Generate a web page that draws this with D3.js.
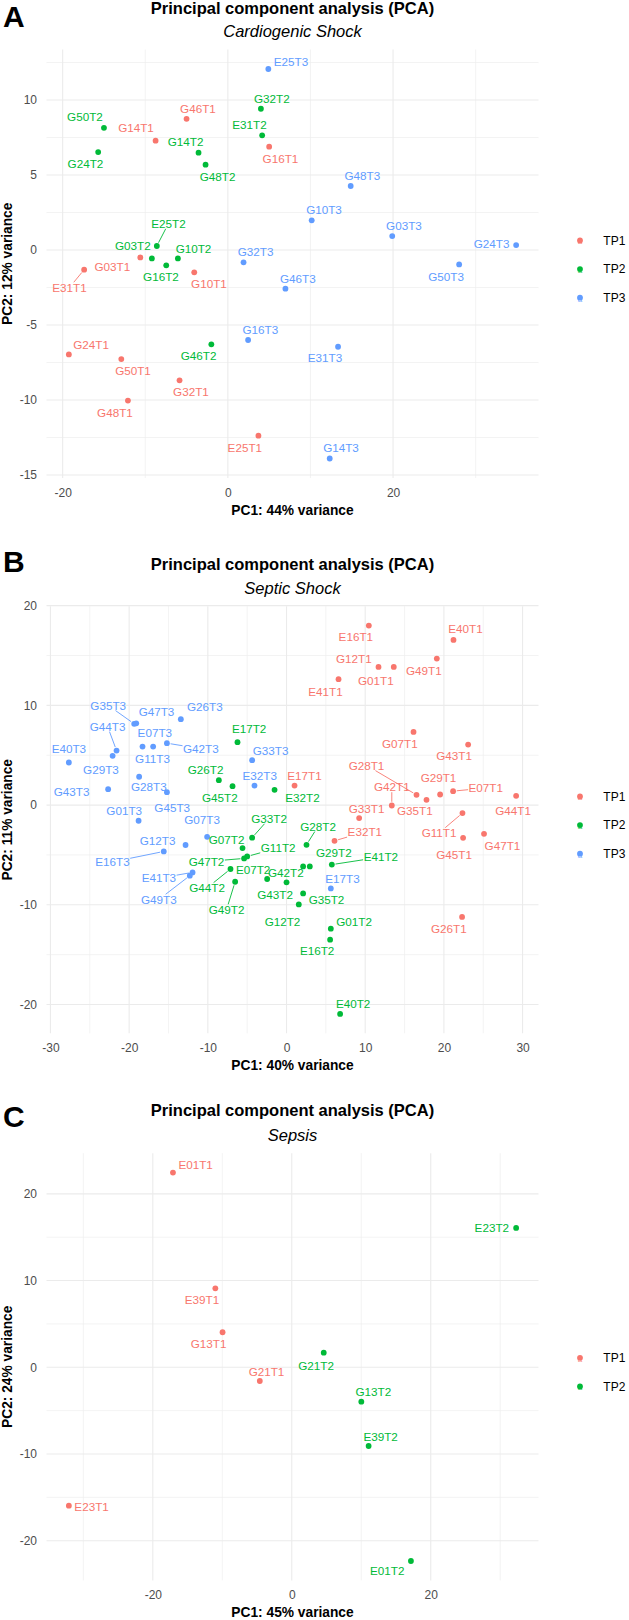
<!DOCTYPE html>
<html>
<head>
<meta charset="utf-8">
<script src="https://cdn.jsdelivr.net/npm/d3@7"></script>
<style>
  body { margin: 0; background: #fff; }
  svg text { font-family: "Liberation Sans", Arial, Helvetica, sans-serif; }
</style>
</head>
<body>
<svg id="fig" width="629" height="1620"></svg>
<script>
// ---- data: panel A, cardiogenic shock ----
const cardioSample = ['E25T3','G32T2','G46T1','G50T2','G14T1','E31T2','G16T1','G14T2','G24T2','G48T2',
  'G48T3','G10T3','G03T3','G24T3','E25T2','G03T2','G10T2','G03T1','G16T2','G32T3','G50T3',
  'E31T1','G10T1','G46T3','G16T3','G46T2','E31T3','G24T1','G50T1','G32T1','G48T1','E25T1','G14T3'];
const cardioTP = ['TP3','TP2','TP1','TP2','TP1','TP2','TP1','TP2','TP2','TP2',
  'TP3','TP3','TP3','TP3','TP2','TP2','TP2','TP1','TP2','TP3','TP3',
  'TP1','TP1','TP3','TP3','TP2','TP3','TP1','TP1','TP1','TP1','TP1','TP3'];
const cardioPC1 = [4.9, 4.0, -5.0, -15.0, -8.75, 4.15, 5.0, -3.55, -15.7, -2.7,
  14.87, 10.15, 19.9, 34.9, -8.6, -9.2, -6.05, -10.6, -7.46, 1.9, 28.0,
  -17.4, -4.07, 6.97, 2.45, -2.0, 13.34, -19.25, -12.9, -5.85, -12.1, 3.7, 12.33];
const cardioPC2 = [12.07, 9.42, 8.75, 8.15, 7.29, 7.65, 6.89, 6.49, 6.53, 5.69,
  4.27, 1.98, 0.93, 0.33, 0.27, -0.56, -0.56, -0.49, -1.02, -0.82, -0.96,
  -1.31, -1.49, -2.58, -6.0, -6.29, -6.45, -6.96, -7.27, -8.69, -10.04, -12.38, -13.9];
const cardioXTicks = [-20, 0, 20];
const cardioYTicks = [-15, -10, -5, 0, 5, 10];

// ---- data: panel B, septic shock ----
const septicSample = ['E40T3','G29T3','G44T3','G35T3','G47T3','G11T3','E07T3','G42T3','G26T3','G28T3',
  'G43T3','G45T3','G33T3','E32T3','G01T3','G07T3','G12T3','E16T3','E41T3','G49T3','E17T3',
  'E17T2','G26T2','G45T2','E32T2','G33T2','G07T2','G11T2','G47T2','G44T2','G49T2','E07T2',
  'G43T2','G12T2','G28T2','G42T2','G29T2','E41T2','G35T2','G01T2','E16T2','E40T2',
  'E16T1','E40T1','G49T1','G12T1','G01T1','E41T1','G07T1','G43T1','G28T1','G35T1','G29T1',
  'E07T1','G44T1','G42T1','G33T1','G11T1','G45T1','G47T1','E32T1','E17T1','G26T1'];
const septicTP = [
  'TP3','TP3','TP3','TP3','TP3','TP3','TP3','TP3','TP3','TP3','TP3','TP3','TP3','TP3','TP3','TP3','TP3','TP3','TP3','TP3','TP3',
  'TP2','TP2','TP2','TP2','TP2','TP2','TP2','TP2','TP2','TP2','TP2','TP2','TP2','TP2','TP2','TP2','TP2','TP2','TP2','TP2','TP2',
  'TP1','TP1','TP1','TP1','TP1','TP1','TP1','TP1','TP1','TP1','TP1','TP1','TP1','TP1','TP1','TP1','TP1','TP1','TP1','TP1','TP1'];
const septicPC1 = [-27.66, -22.1, -21.6, -19.36, -19.1, -18.3, -16.95, -15.2, -13.43, -18.73,
  -22.67, -15.2, -4.37, -4.07, -18.8, -10.09, -12.83, -15.6, -11.94, -12.29, 5.63,
  -6.23, -8.6, -6.86, -1.52, -4.37, -5.59, -5.0, -5.39, -7.12, -6.53, -2.46,
  0.0, 1.56, 2.54, 2.11, 2.96, 5.76, 2.11, 5.63, 5.54, 6.81,
  10.46, 21.22, 19.1, 11.69, 13.63, 6.61, 16.14, 23.08, 16.52, 17.79, 19.52,
  21.17, 29.18, 13.38, 9.23, 22.36, 22.44, 25.1, 6.1, 1.02, 22.31];
const septicPC2 = [4.27, 4.94, 5.47, 8.15, 8.2, 5.87, 5.87, 6.21, 8.62, 2.84,
  1.6, 1.3, 4.5, 1.96, -1.57, -3.18, -4.0, -4.65, -6.75, -7.08, -8.36,
  6.31, 2.5, 1.9, 1.53, -3.27, -4.31, -5.15, -5.35, -6.41, -7.69, -7.41,
  -7.75, -9.96, -3.98, -6.15, -6.15, -5.97, -8.86, -12.39, -13.5, -20.94,
  18.0, 16.56, 14.69, 13.86, 13.86, 12.63, 7.34, 6.07, 1.03, 0.53, 1.06,
  1.4, 0.93, -0.04, -1.3, -0.8, -3.28, -2.88, -3.58, 1.96, -11.22];
const septicXTicks = [-30, -20, -10, 0, 10, 20, 30];
const septicYTicks = [-20, -10, 0, 10, 20];

// ---- data: panel C, sepsis ----
const sepsisSample = ['E01T1','E39T1','G13T1','G21T1','E23T1','E23T2','G21T2','G13T2','E39T2','E01T2'];
const sepsisTP = ['TP1','TP1','TP1','TP1','TP1','TP2','TP2','TP2','TP2','TP2'];
const sepsisPC1 = [-17.1, -11.0, -9.96, -4.6, -32.08, 32.29, 4.6, 10.01, 11.06, 17.15];
const sepsisPC2 = [22.45, 9.11, 4.04, -1.58, -15.96, 16.07, 1.68, -3.97, -9.08, -22.34];
const sepsisXTicks = [-20, 0, 20];
const sepsisYTicks = [-20, -10, 0, 10, 20];

const tpLevels = ['TP1', 'TP2', 'TP3'];
const tpColors = ['#F8766D', '#00BA38', '#619CFF'];

// ---- label placement (layout, pixel nudges as ggrepel left them) ----
const cardioNudge = {
  E25T3:[22.7,-7.3], G32T2:[11,-10], G46T1:[11.4,-9.7], G50T2:[-19,-10.4], G14T1:[-19.6,-13],
  E31T2:[-12.7,-10], G16T1:[11.3,12.6], G14T2:[-13,-10.4], G24T2:[-12.7,11.7], G48T2:[12,12],
  G48T3:[11.6,-9.7], G10T3:[12.3,-10], G03T3:[11.7,-9.7], G24T3:[-24.6,-0.7], E25T2:[11.6,-22.3],
  G03T2:[-19,-12.6], G10T2:[15.6,-10], G03T1:[-28,9.4], G16T2:[-5.3,11.4], G32T3:[12,-10],
  G50T3:[-13,12], E31T1:[-14.7,18], G10T1:[14.7,12], G46T3:[12.4,-10], G16T3:[12.3,-10],
  G46T2:[-12.7,11.7], E31T3:[-13,11.6], G24T1:[22.3,-9.3], G50T1:[11.7,11.7], G32T1:[11.4,11.7],
  G48T1:[-13,12], E25T1:[-13.6,12.3], G14T3:[11.3,-10.3]
};
const cardioSegments = ['E25T2', 'E31T1'];

const septicNudge = {
  E40T3:[0,-13.4], G29T3:[-11.7,14], G44T3:[-9,-24], G35T3:[-26,-18.3], G47T3:[20.3,-11.2],
  G11T3:[10,12.6], E07T3:[1.7,-13.4], G42T3:[34,5.7], G26T3:[24,-12.6], G28T3:[9.7,10.3],
  G43T3:[-36.6,2.4], G45T3:[5.3,16], G33T3:[18.4,-9.6], E32T3:[5.3,-10], G01T3:[-14.4,-10],
  G07T3:[-5,-17.3], G12T3:[-28,-4], E16T3:[-51.3,10.6], E41T3:[-33.7,6], G49T3:[-31,24],
  E17T3:[11.7,-9.7],
  E17T2:[11.6,-13], G26T2:[-13.3,-10.3], G45T2:[-12.7,11.4], E32T2:[28,7.7], G33T2:[17,-19],
  G07T2:[-16,-8.3], G11T2:[31,-8.4], G47T2:[-37.6,3.3], G44T2:[-23.4,19], G49T2:[-8.6,28],
  E07T2:[-14,-9.3], G43T2:[-11.4,12.3], G12T2:[-16.3,17.3], G28T2:[11.6,-18.3], G42T2:[-17.3,6],
  G29T2:[24,-13.4], E41T2:[49,-7.4], G35T2:[23.4,6.3], G01T2:[23.3,-6.3], E16T2:[-13,11.7],
  E40T2:[13,-10.3],
  E16T1:[-13,11.6], E40T1:[12,-10.7], G49T1:[-13,12], G12T1:[-24.7,-8], G01T1:[-18,13.7],
  E41T1:[-13,12.4], G07T1:[-13.7,11.7], G43T1:[-14,11.3], G28T1:[-50,-29.3], G35T1:[-11.7,11.3],
  G29T1:[-1.6,-17], E07T1:[32.7,-3], G44T1:[-3,14.7], G42T1:[0,-18.4], G33T1:[7.4,-9.6],
  G11T1:[-23.4,20], G45T1:[-9,17], G47T1:[18.4,11.7], E32T1:[30.3,-8.7], E17T1:[10,-10],
  G26T1:[-13.3,12]
};
const septicSegments = ['G35T3','G44T3','G42T3','E16T3','E41T3','G49T3','G33T2','G11T2','G47T2',
  'G44T2','G49T2','G28T2','E41T2','G28T1','E07T1','G42T1','G11T1','E32T1'];

const sepsisNudge = {
  E01T1:[22.7,-7.7], E39T1:[-13.4,11.7], G13T1:[-14,12], G21T1:[6.7,-9.3], E23T1:[22.7,1],
  E23T2:[-24.3,0], G21T2:[-7.6,13], G13T2:[12,-10], E39T2:[12,-9.3], E01T2:[-23.7,9.7]
};
const sepsisSegments = [];

const svg = d3.select('#fig');
svg.append('rect').attr('width', 629).attr('height', 1620).attr('fill', '#fff');

const plotLeft = 46.5, plotRight = 538.5;
const color = d3.scaleOrdinal().domain(tpLevels).range(tpColors);

// ggplot style 5% expansion of the data range
function expand([lo, hi]) {
  const pad = (hi - lo) * 0.05;
  return [lo - pad, hi + pad];
}

// where the ray from the box centre to (px,py) leaves the box
function boxEdge(px, py, b) {
  const cx = b.x + b.width / 2, cy = b.y + b.height / 2;
  const dx = px - cx, dy = py - cy;
  const sx = dx === 0 ? Infinity : (b.width / 2) / Math.abs(dx);
  const sy = dy === 0 ? Infinity : (b.height / 2) / Math.abs(dy);
  const s = Math.min(sx, sy);
  return [cx + dx * s, cy + dy * s];
}

function drawPanel(p) {
  const g = svg.append('g');
  const x = d3.scaleLinear().domain(expand(d3.extent(p.pc1))).range([plotLeft, plotRight]);
  const y = d3.scaleLinear().domain(expand(d3.extent(p.pc2))).range([p.bottom, p.top]);

  // grid: minor lines halfway between the major ones
  const minorOf = (ticks, dom) => {
    const step = ticks[1] - ticks[0];
    const out = [ticks[0] - step / 2].concat(ticks.map(t => t + step / 2));
    return out.filter(v => v > dom[0] && v < dom[1]);
  };
  const grid = g.append('g');
  minorOf(p.xTicks, x.domain()).forEach(v => grid.append('line')
    .attr('x1', x(v)).attr('x2', x(v)).attr('y1', p.top).attr('y2', p.bottom)
    .attr('stroke', '#EEEEEE').attr('stroke-width', 0.7));
  minorOf(p.yTicks, y.domain()).forEach(v => grid.append('line')
    .attr('x1', plotLeft).attr('x2', plotRight).attr('y1', y(v)).attr('y2', y(v))
    .attr('stroke', '#EEEEEE').attr('stroke-width', 0.7));
  p.xTicks.forEach(v => grid.append('line')
    .attr('x1', x(v)).attr('x2', x(v)).attr('y1', p.top).attr('y2', p.bottom)
    .attr('stroke', '#EBEBEB').attr('stroke-width', 1.1));
  p.yTicks.forEach(v => grid.append('line')
    .attr('x1', plotLeft).attr('x2', plotRight).attr('y1', y(v)).attr('y2', y(v))
    .attr('stroke', '#EBEBEB').attr('stroke-width', 1.1));

  // axes
  const xAxis = g.append('g').attr('transform', `translate(0,${p.bottom})`)
    .call(d3.axisBottom(x).tickValues(p.xTicks).tickFormat(d => String(d)).tickSize(0).tickPadding(10.5));
  const yAxis = g.append('g').attr('transform', `translate(${plotLeft},0)`)
    .call(d3.axisLeft(y).tickValues(p.yTicks).tickFormat(d => String(d)).tickSize(0).tickPadding(9.5));
  [xAxis, yAxis].forEach(a => {
    a.select('.domain').remove();
    a.selectAll('text').attr('fill', '#4D4D4D').attr('font-size', 12)
      .attr('font-family', '"Liberation Sans", Arial, sans-serif');
  });

  // titles
  const midX = (plotLeft + plotRight) / 2;
  const midY = (p.top + p.bottom) / 2;
  g.append('text').attr('x', midX).attr('y', p.titleY).attr('text-anchor', 'middle')
    .attr('font-size', 16.5).attr('font-weight', 'bold').attr('fill', '#000')
    .text('Principal component analysis (PCA)');
  g.append('text').attr('x', midX).attr('y', p.subtitleY).attr('text-anchor', 'middle')
    .attr('font-size', 16.5).attr('font-style', 'italic').attr('fill', '#000')
    .text(p.subtitle);
  g.append('text').attr('x', 3).attr('y', p.letterY)
    .attr('font-size', 30).attr('font-weight', 'bold').attr('fill', '#000').text(p.letter);
  g.append('text').attr('x', midX).attr('y', p.bottom + 37).attr('text-anchor', 'middle')
    .attr('font-size', 13.75).attr('font-weight', 'bold').attr('fill', '#000').text(p.xLabel);
  g.append('text').attr('transform', `translate(7.5,${midY}) rotate(-90)`).attr('dy', '0.35em')
    .attr('text-anchor', 'middle').attr('font-size', 13.75).attr('font-weight', 'bold')
    .attr('fill', '#000').text(p.yLabel);

  // points and labels
  const rows = p.sample.map((s, i) => ({ name: s, tp: p.tp[i], pc1: p.pc1[i], pc2: p.pc2[i] }));
  const segLayer = g.append('g');
  const pointLayer = g.append('g');
  const labelLayer = g.append('g');
  const r = 2.9;
  rows.forEach(d => {
    const px = x(d.pc1), py = y(d.pc2);
    pointLayer.append('circle').attr('cx', px).attr('cy', py).attr('r', r).attr('fill', color(d.tp));
    const [dx, dy] = p.nudge[d.name] || [0, -11];
    const t = labelLayer.append('text').attr('x', px + dx).attr('y', py + dy).attr('dy', '0.35em')
      .attr('text-anchor', 'middle').attr('font-size', 11.7).attr('fill', color(d.tp)).text(d.name);
    if (p.segments.includes(d.name)) {
      const b = t.node().getBBox();
      const box = { x: b.x - 0.5, y: b.y + 1.5, width: b.width + 1, height: b.height - 2.5 };
      const [ex, ey] = boxEdge(px, py, box);
      const len = Math.hypot(ex - px, ey - py);
      if (len > r + 2) {
        const ux = (ex - px) / len, uy = (ey - py) / len;
        segLayer.append('line')
          .attr('x1', px + ux * (r + 0.8)).attr('y1', py + uy * (r + 0.8))
          .attr('x2', ex).attr('y2', ey)
          .attr('stroke', color(d.tp)).attr('stroke-width', 0.9);
      }
    }
  });

  // legend
  const levels = tpLevels.filter(l => p.tp.includes(l));
  const gap = 28.6;
  const legTop = midY + 5.3 - gap * (levels.length - 1) / 2;
  levels.forEach((l, i) => {
    const ly = legTop + i * gap;
    g.append('text').attr('x', 580).attr('y', ly + 4).attr('text-anchor', 'middle')
      .attr('font-size', 8).attr('fill', color(l)).attr('opacity', 0.8).text('a');
    g.append('circle').attr('cx', 580).attr('cy', ly).attr('r', r).attr('fill', color(l));
    g.append('text').attr('x', 603.3).attr('y', ly).attr('dy', '0.35em')
      .attr('font-size', 12).attr('fill', '#000').text(l);
  });
}

drawPanel({
  letter: 'A', subtitle: 'Cardiogenic Shock',
  xLabel: 'PC1: 44% variance', yLabel: 'PC2: 12% variance',
  sample: cardioSample, tp: cardioTP, pc1: cardioPC1, pc2: cardioPC2,
  xTicks: cardioXTicks, yTicks: cardioYTicks, nudge: cardioNudge, segments: cardioSegments,
  top: 49.5, bottom: 478, titleY: 14.2, subtitleY: 36.7, letterY: 27.3
});
drawPanel({
  letter: 'B', subtitle: 'Septic Shock',
  xLabel: 'PC1: 40% variance', yLabel: 'PC2: 11% variance',
  sample: septicSample, tp: septicTP, pc1: septicPC1, pc2: septicPC2,
  xTicks: septicXTicks, yTicks: septicYTicks, nudge: septicNudge, segments: septicSegments,
  top: 606.2, bottom: 1033.3, titleY: 570, subtitleY: 594, letterY: 571.7
});
drawPanel({
  letter: 'C', subtitle: 'Sepsis',
  xLabel: 'PC1: 45% variance', yLabel: 'PC2: 24% variance',
  sample: sepsisSample, tp: sepsisTP, pc1: sepsisPC1, pc2: sepsisPC2,
  xTicks: sepsisXTicks, yTicks: sepsisYTicks, nudge: sepsisNudge, segments: sepsisSegments,
  top: 1153.2, bottom: 1580.4, titleY: 1116, subtitleY: 1140.7, letterY: 1126.7
});
</script>
</body>
</html>
